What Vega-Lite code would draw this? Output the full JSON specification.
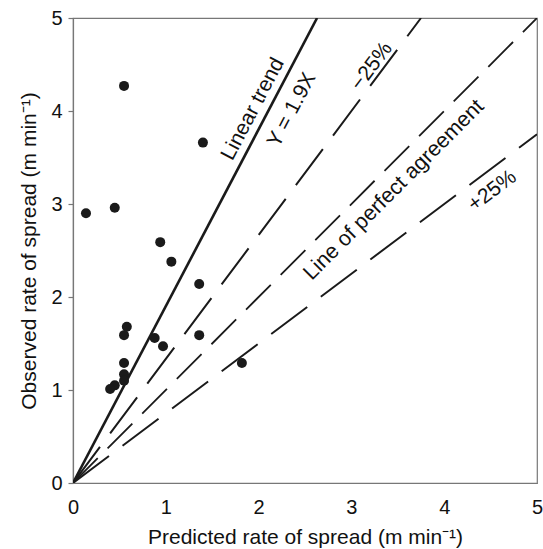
{
  "$schema": "https://vega.github.io/schema/vega-lite/v6.json",
  "width": 464,
  "height": 465,
  "autosize": "none",
  "padding": {"left": 73, "top": 18, "right": 6, "bottom": 66},
  "background": "white",
  "config": {
    "view": {"stroke": "#777", "strokeWidth": 1.2},
    "font": "Liberation Sans",
    "axis": {
      "grid": false,
      "labelFont": "Liberation Sans",
      "titleFont": "Liberation Sans",
      "labelFontSize": 20,
      "titleFontSize": 21,
      "titleFontWeight": "normal",
      "labelColor": "#111",
      "titleColor": "#111",
      "domainColor": "#777",
      "tickColor": "#777",
      "domainWidth": 1.2,
      "tickWidth": 1.2
    }
  },
  "datasets": {
    "points": [
      {"predicted": 0.55, "observed": 4.27},
      {"predicted": 1.40, "observed": 3.66},
      {"predicted": 0.14, "observed": 2.90},
      {"predicted": 0.45, "observed": 2.96},
      {"predicted": 0.94, "observed": 2.59},
      {"predicted": 1.06, "observed": 2.38},
      {"predicted": 1.36, "observed": 2.14},
      {"predicted": 0.58, "observed": 1.68},
      {"predicted": 0.55, "observed": 1.59},
      {"predicted": 0.88, "observed": 1.56},
      {"predicted": 0.97, "observed": 1.47},
      {"predicted": 1.36, "observed": 1.59},
      {"predicted": 0.55, "observed": 1.29},
      {"predicted": 0.55, "observed": 1.17},
      {"predicted": 0.55, "observed": 1.10},
      {"predicted": 0.45, "observed": 1.05},
      {"predicted": 0.40, "observed": 1.01},
      {"predicted": 1.82, "observed": 1.29}
    ],
    "lines": [
      {"series": "trend", "predicted": 0, "observed": 0},
      {"series": "trend", "predicted": 2.63, "observed": 5},
      {"series": "minus25", "predicted": 0, "observed": 0},
      {"series": "minus25", "predicted": 3.75, "observed": 5},
      {"series": "perfect", "predicted": 0, "observed": 0},
      {"series": "perfect", "predicted": 5, "observed": 5},
      {"series": "plus25", "predicted": 0, "observed": 0},
      {"series": "plus25", "predicted": 5, "observed": 3.75}
    ],
    "tickvals": [
      {"v": 1}, {"v": 2}, {"v": 3}, {"v": 4}
    ],
    "labels": [
      {"label": "Linear trend", "kind": "trend", "predicted": 1.94, "observed": 4.02},
      {"label": "Y = 1.9X", "kind": "trend", "predicted": 2.36, "observed": 4.01},
      {"label": "−25%", "kind": "minus25", "predicted": 3.22, "observed": 4.48},
      {"label": "Line of perfect agreement", "kind": "perfect", "predicted": 3.46, "observed": 3.15},
      {"label": "+25%", "kind": "plus25", "predicted": 4.52, "observed": 3.14}
    ]
  },
  "encoding": {
    "x": {
      "field": "predicted", "type": "quantitative",
      "scale": {"domain": [0, 5], "nice": false},
      "axis": {"title": "Predicted rate of spread (m min⁻¹)", "values": [0, 1, 2, 3, 4, 5], "ticks": false, "labelPadding": 14, "titlePadding": 9, "labelFlush": false}
    },
    "y": {
      "field": "observed", "type": "quantitative",
      "scale": {"domain": [0, 5], "nice": false},
      "axis": {"title": "Observed rate of spread (m min⁻¹)", "values": [0, 1, 2, 3, 4, 5], "tickSize": 5, "labelPadding": 6, "titlePadding": 11, "labelFlush": false}
    }
  },
  "layer": [
    {
      "data": {"name": "tickvals"},
      "mark": {"type": "rule", "color": "red", "strokeWidth": 3},
      "encoding": {"x": {"field": "v", "type": "quantitative"}, "y": {"datum": 0}, "y2": {"datum": 0.6}}
    },
    {
      "data": {"name": "tickvals"},
      "mark": {"type": "rule", "color": "red", "strokeWidth": 3},
      "encoding": {"x": {"field": "v", "type": "quantitative"}, "y": {"datum": 5}, "y2": {"datum": 4.4}}
    },
    {
      "data": {"name": "tickvals"},
      "mark": {"type": "rule", "color": "red", "strokeWidth": 3},
      "encoding": {"y": {"field": "v", "type": "quantitative"}, "x": {"datum": 5}, "x2": {"datum": 4.4}}
    },
    {
      "data": {"name": "lines"},
      "transform": [{"filter": "datum.series === 'trend'"}],
      "mark": {"type": "line", "color": "#1a1a1a", "strokeWidth": 2.6, "clip": true},
      "encoding": {"detail": {"field": "series"}}
    },
    {
      "data": {"name": "lines"},
      "transform": [{"filter": "datum.series === 'perfect'"}],
      "mark": {"type": "line", "color": "#1a1a1a", "strokeWidth": 1.8, "strokeDash": [35, 14], "clip": true},
      "encoding": {"detail": {"field": "series"}}
    },
    {
      "data": {"name": "lines"},
      "transform": [{"filter": "datum.series === 'minus25' || datum.series === 'plus25'"}],
      "mark": {"type": "line", "color": "#1a1a1a", "strokeWidth": 2, "strokeDash": [45, 17], "clip": true},
      "encoding": {"detail": {"field": "series"}}
    },
    {
      "data": {"name": "points"},
      "mark": {"type": "circle", "color": "#1a1a1a", "opacity": 1, "size": 100}
    },
    {
      "data": {"name": "labels"},
      "transform": [{"filter": "datum.kind === 'trend'"}],
      "mark": {"type": "text", "angle": -62.3, "fontSize": 21, "align": "center", "baseline": "middle", "color": "#111"},
      "encoding": {"text": {"field": "label"}}
    },
    {
      "data": {"name": "labels"},
      "transform": [{"filter": "datum.kind === 'minus25'"}],
      "mark": {"type": "text", "angle": -53.2, "fontSize": 21, "align": "center", "baseline": "middle", "color": "#111"},
      "encoding": {"text": {"field": "label"}}
    },
    {
      "data": {"name": "labels"},
      "transform": [{"filter": "datum.kind === 'perfect'"}],
      "mark": {"type": "text", "angle": -45, "fontSize": 21.5, "align": "center", "baseline": "middle", "color": "#111"},
      "encoding": {"text": {"field": "label"}}
    },
    {
      "data": {"name": "labels"},
      "transform": [{"filter": "datum.kind === 'plus25'"}],
      "mark": {"type": "text", "angle": -36.9, "fontSize": 21, "align": "center", "baseline": "middle", "color": "#111"},
      "encoding": {"text": {"field": "label"}}
    }
  ]
}
